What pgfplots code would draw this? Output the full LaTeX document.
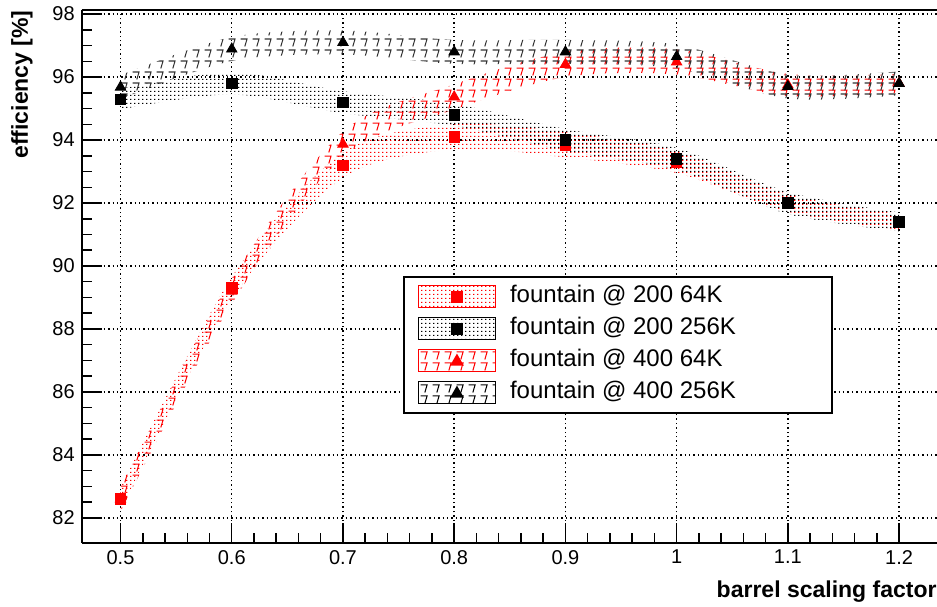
\documentclass[border=0pt]{standalone}
\usepackage{fontspec}
\setmainfont{Liberation Sans}
\usepackage{pgfplots}
\pgfplotsset{compat=1.18}
\usepackage{pgfplotstable}
\usepgfplotslibrary{fillbetween}
\usetikzlibrary{patterns,calc}

\pgfdeclarepatternformonly{fdots}{\pgfpointorigin}{\pgfpoint{1.8pt}{1.8pt}}{\pgfpoint{1.8pt}{1.8pt}}{%
  \pgfpathrectangle{\pgfpointorigin}{\pgfpoint{0.75pt}{0.65pt}}\pgfusepath{fill}}
\pgfdeclarepatternformonly{zigzag}{\pgfpointorigin}{\pgfpoint{6pt}{5.6pt}}{\pgfpoint{6pt}{5.6pt}}{%
  \pgfsetlinewidth{0.55pt}%
  \pgfpathmoveto{\pgfpoint{0.3pt}{4.8pt}}%
  \pgfpathlineto{\pgfpoint{3.8pt}{4.8pt}}%
  \pgfpathlineto{\pgfpoint{2.6pt}{0.8pt}}%
  \pgfusepath{stroke}}

% x, value, half-width of band
\pgfplotstableread{
x y e
0.5 82.6 0.35
0.6 89.3 0.35
0.7 93.2 0.4
0.8 94.1 0.4
0.9 93.85 0.4
1.0 93.3 0.35
1.1 92.0 0.28
1.2 91.4 0.25
}\redsq
\pgfplotstableread{
x y e
0.5 95.3 0.33
0.6 95.8 0.35
0.7 95.2 0.35
0.8 94.8 0.35
0.9 94.0 0.35
1.0 93.4 0.35
1.1 92.0 0.35
1.2 91.4 0.3
}\blksq
\pgfplotstableread{
x y e
0.5 82.6 0.4
0.6 89.2 0.4
0.7 93.87 0.4
0.8 95.37 0.4
0.9 96.4 0.4
1.0 96.48 0.4
1.1 95.75 0.35
1.2 95.8 0.3
}\redtri
\pgfplotstableread{
x y e
0.5 95.68 0.38
0.6 96.89 0.38
0.7 97.1 0.38
0.8 96.8 0.38
0.9 96.8 0.38
1.0 96.65 0.38
1.1 95.7 0.38
1.2 95.8 0.38
}\blktri

\begin{document}
\begin{tikzpicture}
\begin{axis}[
  scale only axis,
  width=427.6pt, height=266.5pt,
  xmin=0.4651, xmax=1.2341,
  ymin=81.2, ymax=98.13,
  axis x line*=bottom, axis y line*=left,
  axis line style={line width=1pt},
  xtick={0.5,0.6,...,1.21},
  ytick={82,84,...,98},
  minor x tick num=4,
  minor y tick num=3,
  tick align=inside,
  major tick length=10pt, minor tick length=5pt,
  every tick/.style={black, line width=0.75pt},
  xticklabels={0.5,0.6,0.7,0.8,0.9,1,1.1,1.2},
  /pgf/number format/assume math mode=true,
  ticklabel style={font=\fontsize{10}{12}\selectfont},
  grid=major,
  major grid style={black, line width=0.7pt, dash pattern=on 0.7pt off 1.5pt},
  xlabel={\textbf{barrel scaling factor}},
  ylabel={\textbf{efficiency [\%]}},
  label style={font=\fontsize{11.5}{13}\selectfont},
  xlabel style={at={(axis description cs:1,-0.0694)}, anchor=north east, inner sep=0pt},
  ylabel style={at={(axis description cs:-0.057,1)}, anchor=south east, inner sep=0pt},
  legend cell align=left,
  legend style={at={(axis description cs:0.3757,0.501)}, anchor=north west,
    draw=black, line width=0.8pt, fill=white,
    font=\fontsize{12}{14}\selectfont,
    inner xsep=7pt, inner ysep=2pt, row sep=0pt,
    nodes={inner sep=2pt, text height=9pt, text depth=3pt},
    /tikz/every odd column/.append style={column sep=5pt}},
]
% 200 64K (red squares, dotted band)
\addplot[draw=none, smooth, name path=au, forget plot] table[x=x, y expr=\thisrow{y}+\thisrow{e}] {\redsq};
\addplot[draw=none, smooth, name path=al, forget plot] table[x=x, y expr=\thisrow{y}-\thisrow{e}] {\redsq};
\addplot[pattern=fdots, pattern color=red, draw=none, forget plot] fill between[of=au and al];
% 200 256K (black squares, dotted band)
\addplot[draw=none, smooth, name path=bu, forget plot] table[x=x, y expr=\thisrow{y}+\thisrow{e}] {\blksq};
\addplot[draw=none, smooth, name path=bl, forget plot] table[x=x, y expr=\thisrow{y}-\thisrow{e}] {\blksq};
\addplot[pattern=fdots, pattern color=black, draw=none, forget plot] fill between[of=bu and bl];
% 400 64K (red triangles, zigzag band)
\addplot[draw=none, smooth, name path=cu, forget plot] table[x=x, y expr=\thisrow{y}+\thisrow{e}] {\redtri};
\addplot[draw=none, smooth, name path=cl, forget plot] table[x=x, y expr=\thisrow{y}-\thisrow{e}] {\redtri};
\addplot[pattern=zigzag, pattern color=red, draw=none, forget plot] fill between[of=cu and cl];
% 400 256K (black triangles, zigzag band)
\addplot[draw=none, smooth, name path=du, forget plot] table[x=x, y expr=\thisrow{y}+\thisrow{e}] {\blktri};
\addplot[draw=none, smooth, name path=dl, forget plot] table[x=x, y expr=\thisrow{y}-\thisrow{e}] {\blktri};
\addplot[pattern=zigzag, pattern color=black!80, draw=none, forget plot] fill between[of=du and dl];
% markers
\addplot[only marks, mark=square*, red, mark size=2.6pt, forget plot] table[x=x, y=y] {\redsq};
\addplot[only marks, mark=triangle*, red, mark size=3pt, forget plot] table[x=x, y=y] {\redtri};
\addplot[only marks, mark=square*, black, mark size=2.6pt, forget plot] table[x=x, y=y] {\blksq};
\addplot[only marks, mark=triangle*, black, mark size=3pt, forget plot] table[x=x, y=y] {\blktri};
% legend
\addlegendimage{legend image code/.code={
  \draw[red, line width=0.6pt, pattern=fdots, pattern color=red] (0pt,-5.5pt) rectangle (38.5pt,5.5pt);
  \fill[red] (16.75pt,-2.5pt) rectangle (21.75pt,2.5pt);}}
\addlegendentry{\makebox[152pt][l]{fountain @ 200 64K}}
\addlegendimage{legend image code/.code={
  \draw[black, line width=0.6pt, pattern=fdots, pattern color=black] (0pt,-5.5pt) rectangle (38.5pt,5.5pt);
  \fill[black] (16.75pt,-2.5pt) rectangle (21.75pt,2.5pt);}}
\addlegendentry{fountain @ 200 256K}
\addlegendimage{legend image code/.code={
  \draw[red, line width=0.6pt, pattern=zigzag, pattern color=red] (0pt,-5.5pt) rectangle (38.5pt,5.5pt);
  \fill[red] (19.25pt,2.8pt) -- (16.5pt,-2pt) -- (22pt,-2pt) -- cycle;}}
\addlegendentry{fountain @ 400 64K}
\addlegendimage{legend image code/.code={
  \draw[black, line width=0.6pt, pattern=zigzag, pattern color=black] (0pt,-5.5pt) rectangle (38.5pt,5.5pt);
  \fill[black] (19.25pt,2.8pt) -- (16.5pt,-2pt) -- (22pt,-2pt) -- cycle;}}
\addlegendentry{fountain @ 400 256K}
\end{axis}
\draw[line width=0.7pt] (current axis.north west) -- (current axis.north east);
\pgfresetboundingbox
\useasboundingbox ($(current axis.south west)+(-40.85pt,-31.5pt)$) rectangle ($(current axis.north east)+(0pt,5pt)$);
\end{tikzpicture}
\end{document}
